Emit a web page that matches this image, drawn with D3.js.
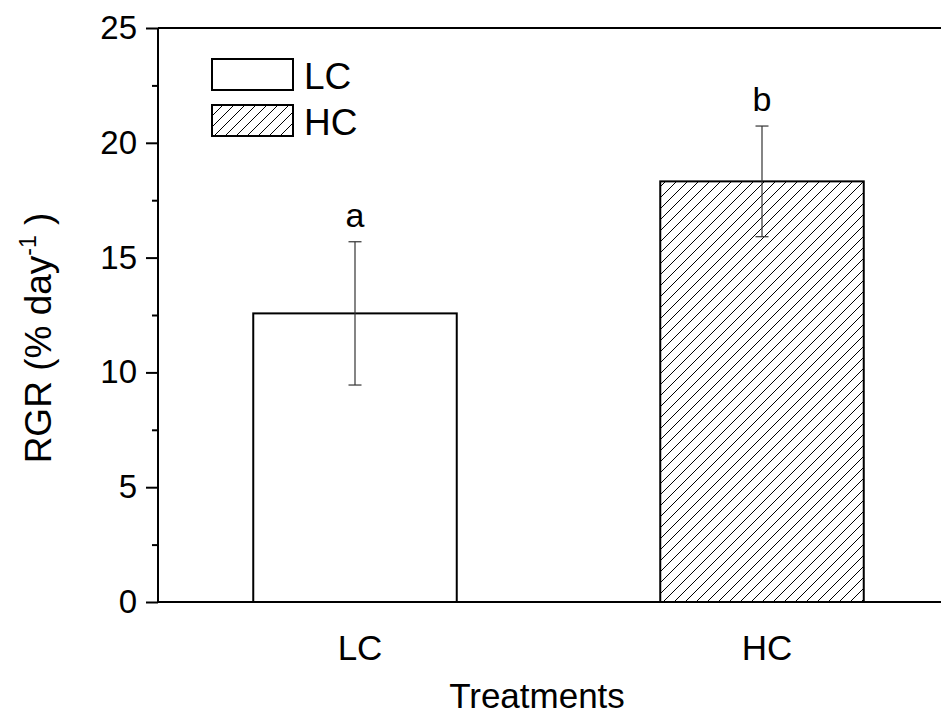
<!DOCTYPE html>
<html>
  <head>
    <meta http-equiv="content-type" content="text/html; charset=utf-8" />
    <title>RGR</title>
    <script type="text/javascript" src="https://cdn.jsdelivr.net/npm/d3@7"></script>
    <style type="text/css">
      body { margin: 0; background: #fff; }
      text { font-family: Arial, "Liberation Sans", sans-serif; fill: #000; }
    </style>
  </head>
  <body>
    <script type="text/javascript">
      // data
      var treatments = ["LC", "HC"];
      var rgr = [12.57, 18.32];
      var se = [3.12, 2.41];
      var letters = ["a", "b"];
      var yTicks = [0, 5, 10, 15, 20, 25];
      var yMinor = [2.5, 7.5, 12.5, 17.5, 22.5];

      // note: "top" is taken by window.top, so plot edges get their own names
      var w = 941, h = 717,
          plotL = 158, plotR = 941, plotT = 28, plotB = 602;

      var svg = d3.select("body").append("svg")
          .attr("width", w)
          .attr("height", h);

      var defs = svg.append("defs");
      var pat = defs.append("pattern")
          .attr("id", "hatch")
          .attr("patternUnits", "userSpaceOnUse")
          .attr("width", 11)
          .attr("height", 11);
      pat.append("rect").attr("width", 11).attr("height", 11).attr("fill", "#fff");
      pat.append("path")
          .attr("d", "M-1,1 L1,-1 M0,11 L11,0 M10,12 L12,10")
          .attr("stroke", "#000")
          .attr("stroke-width", 1);

      var y = d3.scaleLinear().domain([0, 25]).range([plotB, plotT]);
      var x = d3.scaleBand().domain(treatments)
          .range([151.5, 965.5])
          .paddingInner(0.5)
          .paddingOuter(0.25);

      var fills = ["#fff", "url(#hatch)"];

      // bars
      svg.selectAll("rect.bar")
        .data(treatments)
        .enter()
        .append("rect")
          .attr("class", "bar")
          .attr("x", function(d) { return x(d); })
          .attr("y", function(d, i) { return y(rgr[i]); })
          .attr("width", x.bandwidth())
          .attr("height", function(d, i) { return y(0) - y(rgr[i]); })
          .attr("fill", function(d, i) { return fills[i]; })
          .attr("stroke", "#000")
          .attr("stroke-width", 2);

      // error bars
      var eb = svg.selectAll("g.err")
        .data(treatments)
        .enter()
        .append("g")
          .attr("class", "err")
          .attr("stroke", "#333")
          .attr("stroke-width", 1.2);
      eb.append("line")
          .attr("x1", function(d) { return x(d) + x.bandwidth() / 2; })
          .attr("x2", function(d) { return x(d) + x.bandwidth() / 2; })
          .attr("y1", function(d, i) { return y(rgr[i] + se[i]); })
          .attr("y2", function(d, i) { return y(rgr[i] - se[i]); });
      [1, -1].forEach(function(s) {
        eb.append("line")
            .attr("x1", function(d) { return x(d) + x.bandwidth() / 2 - 6.5; })
            .attr("x2", function(d) { return x(d) + x.bandwidth() / 2 + 6.5; })
            .attr("y1", function(d, i) { return y(rgr[i] + s * se[i]); })
            .attr("y2", function(d, i) { return y(rgr[i] + s * se[i]); });
      });

      // significance letters
      svg.selectAll("text.sig")
        .data(treatments)
        .enter()
        .append("text")
          .attr("class", "sig")
          .attr("x", function(d) { return x(d) + x.bandwidth() / 2; })
          .attr("y", function(d, i) { return y(rgr[i] + se[i]) - 15; })
          .attr("text-anchor", "middle")
          .attr("font-size", 34)
          .text(function(d, i) { return letters[i]; });

      // frame lines
      svg.append("line")
          .attr("x1", plotL).attr("x2", plotR)
          .attr("y1", plotB).attr("y2", plotB)
          .attr("stroke", "#000").attr("stroke-width", 2);
      svg.append("line")
          .attr("x1", plotL).attr("x2", plotR)
          .attr("y1", plotT).attr("y2", plotT)
          .attr("stroke", "#000").attr("stroke-width", 2);

      // y axis
      var yAxis = d3.axisLeft(y)
          .tickValues(yTicks)
          .tickSize(12)
          .tickPadding(9)
          .tickFormat(d3.format("d"));
      var gy = svg.append("g")
          .attr("transform", "translate(" + plotL + ",0)")
          .call(yAxis);
      gy.select(".domain").attr("stroke-width", 2).attr("d", "M0," + plotB + "V" + plotT);
      gy.selectAll(".tick line").attr("stroke-width", 2);
      gy.selectAll(".tick text")
          .attr("font-family", "Arial, 'Liberation Sans', sans-serif")
          .attr("font-size", 33)
          .attr("fill", "#000");

      var gyMinor = svg.append("g")
          .attr("transform", "translate(" + plotL + ",0)")
          .call(d3.axisLeft(y).tickValues(yMinor).tickSize(6).tickFormat(""));
      gyMinor.select(".domain").remove();
      gyMinor.selectAll(".tick line").attr("stroke-width", 2);

      // x tick labels
      svg.selectAll("text.xlab")
        .data(treatments)
        .enter()
        .append("text")
          .attr("class", "xlab")
          .attr("x", function(d) { return x(d) + x.bandwidth() / 2 + 5; })
          .attr("y", 660)
          .attr("text-anchor", "middle")
          .attr("font-size", 35)
          .text(function(d) { return d; });

      // axis titles
      svg.append("text")
          .attr("x", 537)
          .attr("y", 708)
          .attr("text-anchor", "middle")
          .attr("font-size", 35)
          .text("Treatments");

      var yt = svg.append("text")
          .attr("transform", "translate(51,338) rotate(-90)")
          .attr("text-anchor", "middle")
          .attr("font-size", 37);
      yt.append("tspan").text("RGR (% day");
      yt.append("tspan").attr("font-size", 23).attr("dy", -15).text("-1");
      yt.append("tspan").attr("dy", 15).text(" )");

      // legend
      var legend = svg.selectAll("g.leg")
        .data(treatments)
        .enter()
        .append("g")
          .attr("class", "leg")
          .attr("transform", function(d, i) { return "translate(212," + (59 + i * 46) + ")"; });
      legend.append("rect")
          .attr("width", 81)
          .attr("height", 31)
          .attr("fill", function(d, i) { return fills[i]; })
          .attr("stroke", "#000")
          .attr("stroke-width", 2);
      legend.append("text")
          .attr("x", 92)
          .attr("y", 30)
          .attr("font-size", 37)
          .text(function(d) { return d; });
    </script>
  </body>
</html>
